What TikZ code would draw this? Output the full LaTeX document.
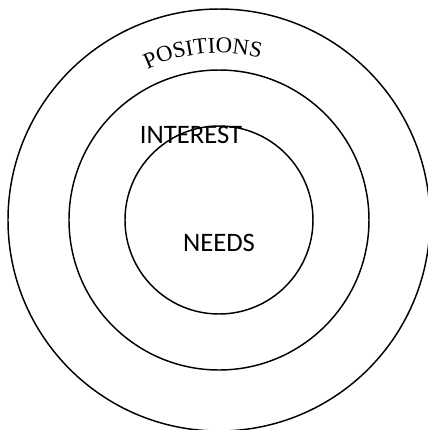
\documentclass[tikz,border=0pt]{standalone}
\usepackage{fontspec}
\setmainfont{Liberation Serif}
\newfontfamily\labelfont{Carlito}
\usetikzlibrary{decorations.text}

\tikzset{
  ring/.style={black, line width=1.1pt},
  lbl/.style={anchor=base, inner sep=0, font=\labelfont\fontsize{20}{20}\selectfont}
}

\begin{document}
\begin{tikzpicture}[x=0.75pt, y=0.75pt]
\useasboundingbox (-219,-210) rectangle (209,220);
\coordinate (O) at (0,0);
\foreach \r in {94, 150, 211} {
 \draw[ring] (O) circle (\r);
}
\path[decorate, decoration={text along path, text align=center,
  text={|\fontsize{17}{17}\selectfont|POSITIONS}}]
  (O) ++(125:167) arc[start angle=125, end angle=66, radius=167];
\node[lbl] (interest) at (-28,77) {INTEREST};
\node[lbl] (needs) at (0,-31) {NEEDS};
\end{tikzpicture}
\end{document}
